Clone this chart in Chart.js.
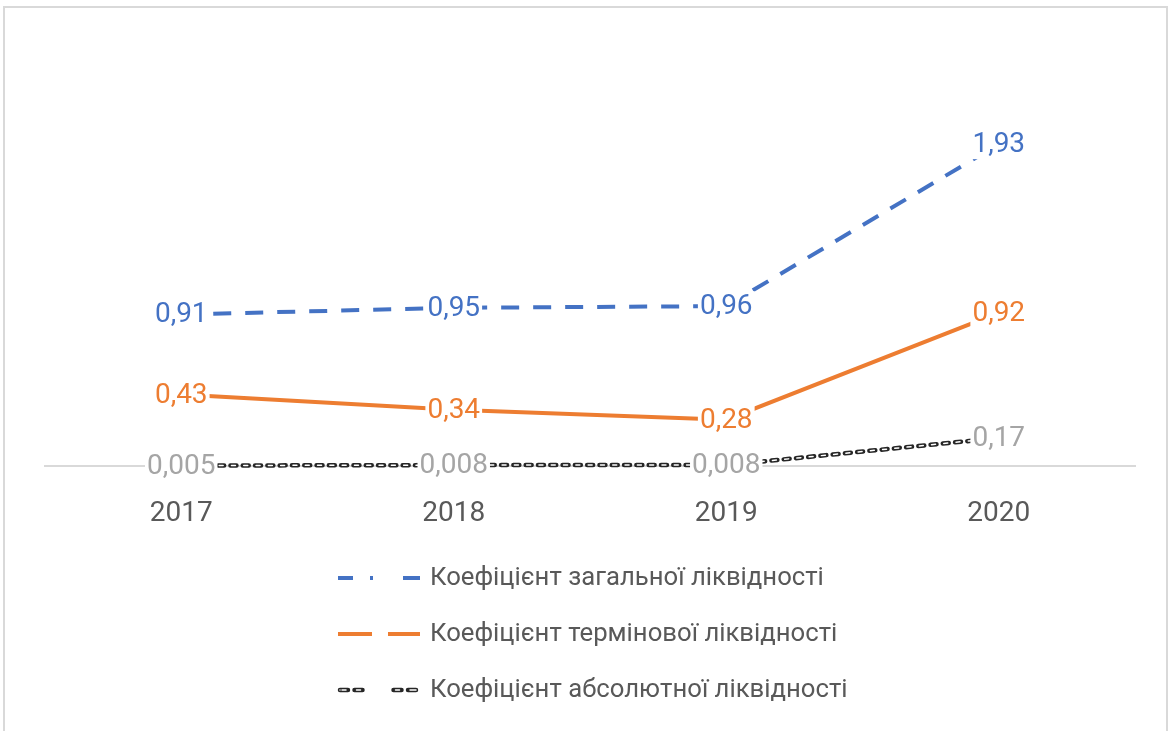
<!DOCTYPE html>
<html>
<head>
<meta charset="utf-8">
<script src="https://cdn.jsdelivr.net/npm/chart.js@4"></script>
<style>
  html, body { margin: 0; padding: 0; background: #fff; }
  #wrap { position: relative; width: 1169px; height: 731px; overflow: hidden; }
  #frame { position: absolute; left: 3px; top: 6px; width: 1161px; height: 740px; border: 2px solid #d9d9d9; }
  canvas { position: absolute; left: 0; top: 0; }
</style>
</head>
<body>
<div id="wrap">
  <div id="frame"></div>
  <canvas id="chart" width="1169" height="731"></canvas>
</div>
<script>
// Liquidity ratios 2017-2020
const years = ['2017', '2018', '2019', '2020'];
const generalRatio = [0.91, 0.95, 0.96, 1.93];
const quickRatio = [0.43, 0.34, 0.28, 0.92];
const absoluteRatio = [0.005, 0.008, 0.008, 0.17];
const seriesNames = [
  'Коефіцієнт загальної ліквідності',
  'Коефіцієнт термінової ліквідності',
  'Коефіцієнт абсолютної ліквідності'
];

const FONT = 'Roboto, "Open Sans", sans-serif';
const BLUE = '#4472C4', ORANGE = '#ED7D31', BLACK = '#262626';

const fmt = v => String(v).replace('.', ',');

// labels centred on each point with a white box behind (like Excel)
const labelPlugin = {
  id: 'pointLabels',
  afterDatasetsDraw(chart) {
    const ctx = chart.ctx;
    ctx.save();
    ctx.font = '28px ' + FONT;
    ctx.textAlign = 'center';
    ctx.textBaseline = 'middle';
    chart.data.datasets.forEach((ds, i) => {
      if (!ds.labelColor) return;
      const meta = chart.getDatasetMeta(i);
      meta.data.forEach((pt, j) => {
        const txt = fmt(ds.data[j]);
        const w = ctx.measureText(txt).width;
        ctx.fillStyle = '#fff';
        ctx.fillRect(pt.x - w / 2 - 2, pt.y - 15, w + 4, 30);
        ctx.fillStyle = ds.labelColor;
        ctx.fillText(txt, pt.x, pt.y + 1);
      });
    });
    ctx.restore();
  },
  afterDraw(chart) {
    // vertical legend under the axis
    const ctx = chart.ctx;
    const rows = [578, 634, 690];
    ctx.save();
    chart.data.datasets.forEach((ds, i) => {
      if (ds.legendRow === undefined) return;
      const y = rows[ds.legendRow];
      const drawSample = (dash, color, width, cap) => {
        ctx.beginPath();
        ctx.setLineDash(dash);
        ctx.lineDashOffset = 0;
        ctx.lineCap = cap || 'butt';
        ctx.strokeStyle = color;
        ctx.lineWidth = width;
        ctx.moveTo(338, y);
        ctx.lineTo(420, y);
        ctx.stroke();
      };
      if (ds.legendRow === 0) drawSample([15, 17, 3, 30, 17], BLUE, 4);
      if (ds.legendRow === 1) drawSample([34, 16, 32], ORANGE, 4);
      if (ds.legendRow === 2) {
        ctx.save();
        ctx.translate(2, 0);
        drawSample([8, 6.5, 8, 31, 8, 6.5, 8], BLACK, 4.5, 'round');
        drawSample([0, 2, 4, 10.5, 4, 35, 4, 10.5, 4], '#fff', 1.5, 'round');
        ctx.restore();
      }
      ctx.setLineDash([]);
      ctx.font = '25.7px ' + FONT;
      ctx.fillStyle = '#595959';
      ctx.textAlign = 'left';
      ctx.textBaseline = 'middle';
      ctx.fillText(seriesNames[ds.legendRow], 430, y + 1);
    });
    ctx.restore();
  }
};

new Chart(document.getElementById('chart'), {
  type: 'line',
  data: {
    labels: years,
    datasets: [
      {
        label: seriesNames[0], data: generalRatio, borderColor: BLUE, borderWidth: 4,
        borderDash: [18, 14], labelColor: BLUE, legendRow: 0, order: 1
      },
      {
        label: seriesNames[1], data: quickRatio, borderColor: ORANGE, borderWidth: 4,
        labelColor: ORANGE, legendRow: 1, order: 1
      },
      {
        label: seriesNames[2], data: absoluteRatio, borderColor: BLACK, borderWidth: 4.5,
        borderDash: [6, 6.3], borderCapStyle: 'round', labelColor: '#A5A5A5', legendRow: 2, order: 2
      },
      {
        label: 'overlay', data: absoluteRatio, borderColor: '#fff', borderWidth: 1.5,
        borderDash: [4, 8.3], borderDashOffset: -1, borderCapStyle: 'round', order: 1
      }
    ]
  },
  options: {
    responsive: false,
    animation: false,
    events: [],
    layout: { padding: { left: 45, right: 34, top: 49, bottom: 177 } },
    elements: { point: { radius: 0 }, line: { tension: 0, borderCapStyle: 'butt' } },
    datasets: { line: { clip: false } },
    plugins: { legend: { display: false }, tooltip: { enabled: false } },
    scales: {
      x: {
        offset: true,
        grid: { display: false, offset: true },
        border: { display: true, color: '#d9d9d9', width: 2 },
        ticks: { color: '#595959', font: { family: FONT, size: 28 }, padding: 23 }
      },
      y: { display: false, min: 0, max: 2.5 }
    }
  },
  plugins: [labelPlugin]
});
</script>
</body>
</html>
